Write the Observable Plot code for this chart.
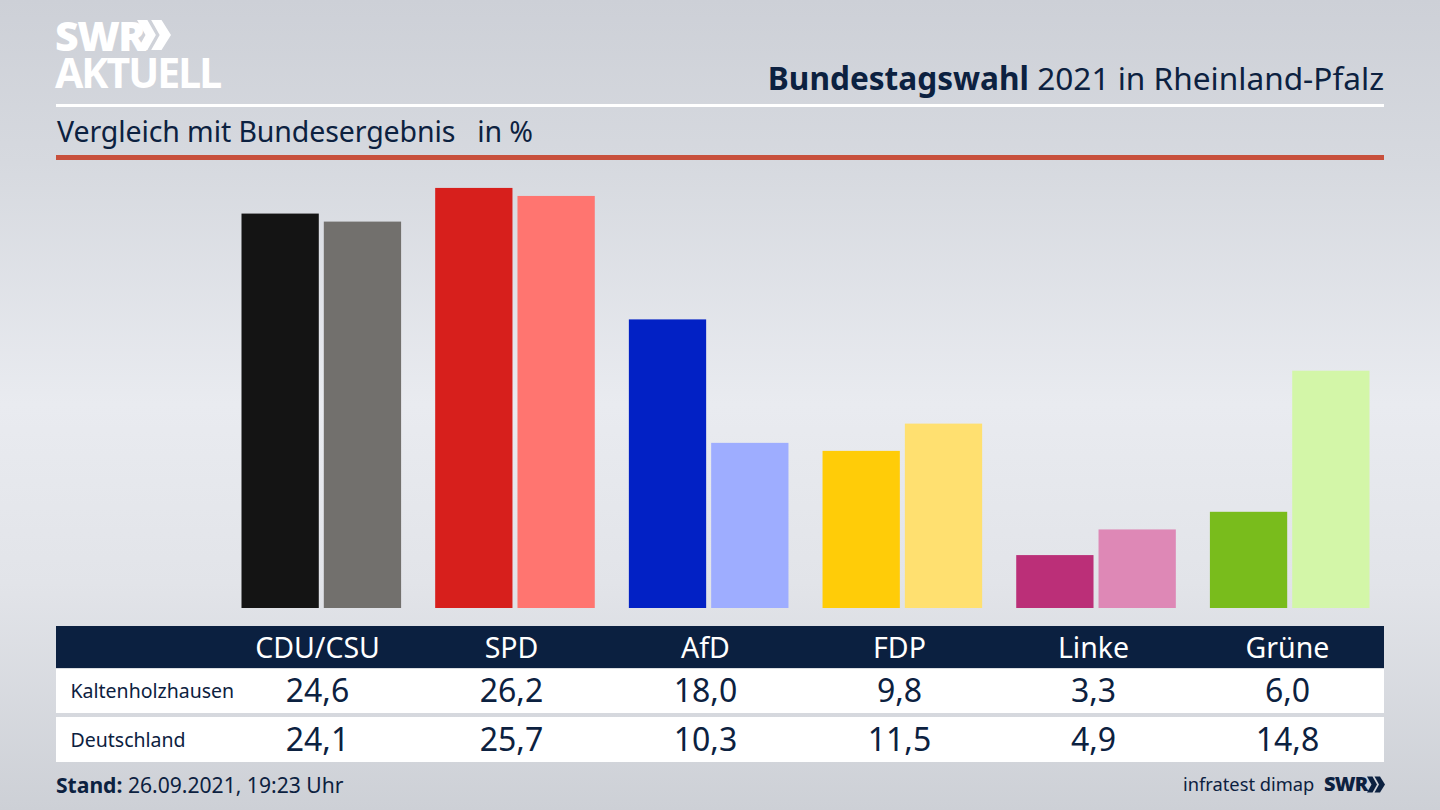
<!DOCTYPE html>
<html>
<head>
<meta charset="utf-8">
<script src="https://cdn.jsdelivr.net/npm/d3@7"></script>
<script src="https://cdn.jsdelivr.net/npm/@observablehq/plot@0.6"></script>
<style>
  html, body { margin: 0; padding: 0; }
  body {
    width: 1440px; height: 810px; position: relative; overflow: hidden;
    font-family: "Noto Sans", sans-serif; color: #0c2140;
    background: linear-gradient(180deg, #cdd0d7 0%, #d6d9df 20%, #e9ebf0 50%, #e2e4e9 72%, #cdd0d6 100%);
  }
  .abs { position: absolute; white-space: pre; line-height: 1; }
  .band { position: absolute; left: 56px; width: 1328px; }
  #chart svg, #table svg { position: absolute; left: 0; background: transparent; }
  .logo { position: absolute; }
</style>
</head>
<body>
  <div class="abs" style="left:55px;top:16.5px;line-height:36px;font-size:41px;font-weight:900;color:#fff;letter-spacing:-1.5px">SWR</div>
  <svg class="logo" style="left:137px;top:18px" width="34" height="34" viewBox="0 0 36 34" fill="#fff">
    <path d="M0 1h11l9 16-9 16H0l9-16zM15 1h11l10 16-10 16H15l9-16z"/>
  </svg>
  <div class="abs" style="left:55px;top:53.5px;line-height:36px;font-size:41px;font-weight:700;color:#fff;letter-spacing:-2px">AKTUELL</div>
  <div class="abs" style="right:56px;top:62px;font-size:31.6px"><b>Bundestagswahl</b> 2021 in Rheinland-Pfalz</div>
  <div class="band" style="top:104px;height:3px;background:#fff"></div>
  <div class="abs" style="left:57px;top:117px;font-size:28.5px;letter-spacing:-.1px">Vergleich mit Bundesergebnis   in %</div>
  <div class="band" style="top:155px;height:5px;background:#c8503c"></div>

  <div class="band" style="top:626px;height:42px;background:#0b2040"></div>
  <div class="band" style="top:669px;height:44px;background:#fff"></div>
  <div class="band" style="top:717px;height:45px;background:#fff"></div>

  <div class="abs" style="left:56px;top:774px;font-size:21.1px"><b>Stand:</b> 26.09.2021, 19:23 Uhr</div>
  <div class="abs" style="left:1183px;top:775px;font-size:18.3px">infratest dimap</div>
  <div class="abs" style="left:1324px;top:774px;font-size:20px;font-weight:900;letter-spacing:-.8px">SWR</div>
  <svg class="logo" style="left:1367px;top:776px" width="18" height="17" viewBox="0 0 36 34" fill="#0c2140">
    <path d="M0 1h11l9 16-9 16H0l9-16zM15 1h11l10 16-10 16H15l9-16z"/>
  </svg>

  <div id="chart"></div>
  <div id="table"></div>

<script>
const parteien = ["CDU/CSU", "SPD", "AfD", "FDP", "Linke", "Grüne"];
const kaltenholzhausen = [24.6, 26.2, 18.0, 9.8, 3.3, 6.0];
const deutschland = [24.1, 25.7, 10.3, 11.5, 4.9, 14.8];
const farbenOrt = ["#141414", "#d71f1c", "#0221c5", "#ffcc08", "#bb2f78", "#79bc1c"];
const farbenBund = ["#72706d", "#ff7570", "#9eadff", "#ffe070", "#de88b6", "#d3f6a8"];
const zeilen = ["Kaltenholzhausen", "Deutschland"];

const fmt = d => d.toFixed(1).replace(".", ",");

let balken = [];
parteien.forEach((p, i) => {
  balken.push({partei: p, gebiet: zeilen[0], wert: kaltenholzhausen[i], farbe: farbenOrt[i]});
  balken.push({partei: p, gebiet: zeilen[1], wert: deutschland[i], farbe: farbenBund[i]});
});

let chart = Plot.plot({
  width: 1440,
  height: 620,
  marginLeft: 241.5,
  marginRight: 70.5,
  marginTop: 127,
  marginBottom: 12,
  style: {background: "transparent"},
  fx: {domain: parteien, axis: null, paddingInner: 0.176, paddingOuter: 0, round: false},
  x: {domain: zeilen, axis: null, paddingInner: 0.061, paddingOuter: 0, round: false},
  y: {domain: [0, 30], axis: null},
  marks: [
    Plot.barY(balken, {fx: "partei", x: "gebiet", y: "wert", fill: "farbe"}),
  ]
});
chart.style.top = "0px";
d3.select("#chart").append(() => chart);

let zellen = [];
parteien.forEach((p, i) => {
  zellen.push({partei: p, zeile: zeilen[0], wert: fmt(kaltenholzhausen[i])});
  zellen.push({partei: p, zeile: zeilen[1], wert: fmt(deutschland[i])});
});

let table = Plot.plot({
  width: 1440,
  height: 140,
  marginLeft: 0,
  marginRight: 0,
  marginTop: 0,
  marginBottom: 0,
  style: {background: "transparent"},
  x: {type: "point", domain: parteien, range: [316.5, 1287.5], padding: 0, axis: null},
  y: {type: "point", domain: zeilen, range: [66, 115], padding: 0, axis: null},
  marks: [
    Plot.axisX({anchor: "top", tickSize: 0, label: null, fontSize: 28.5, color: "#fff", dy: 41}),
    Plot.text(zellen, {x: "partei", y: "zeile", text: "wert", fontSize: 32, fill: "#0c2140"}),
    Plot.text(zeilen, {y: d => d, text: d => d, frameAnchor: "left", dx: 70, fontSize: 19.5, fill: "#0c2140"}),
  ]
});
table.style.top = "625px";
d3.select("#table").append(() => table);
</script>
</body>
</html>
